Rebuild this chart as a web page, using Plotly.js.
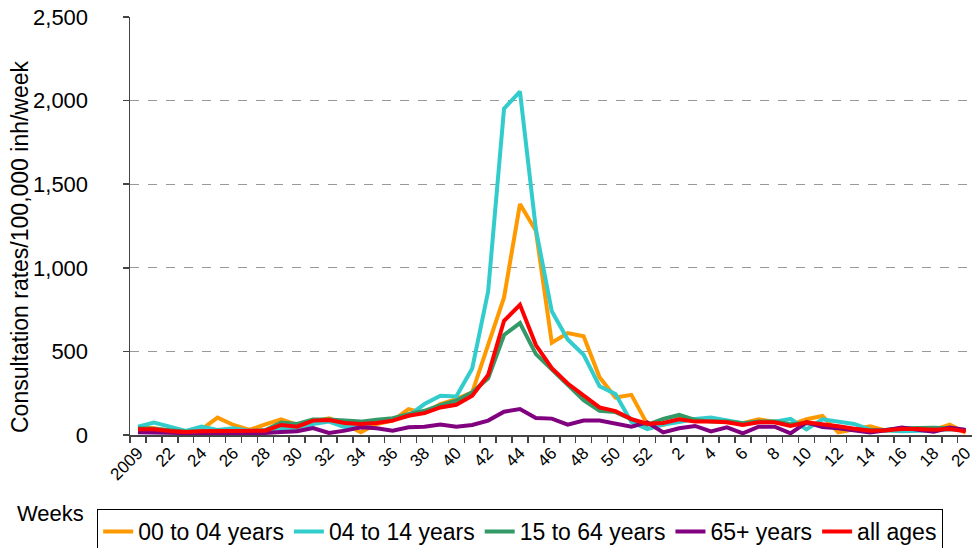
<!DOCTYPE html>
<html>
<head>
<meta charset="utf-8">
<script src="https://cdn.plot.ly/plotly-3.0.1.min.js"></script>
<style>
html,body{margin:0;padding:0;background:#fff;}
#chart{width:972px;height:548px;}
</style>
</head>
<body>
<div id="chart"></div>
<script>
// Week categories: 2009 week 20 .. 2010 week 20
const weeks = ["2009","21","22","23","24","25","26","27","28","29","30","31","32","33","34","35","36","37","38","39","40","41","42","43","44","45","46","47","48","49","50","51","52","1","2","3","4","5","6","7","8","9","10","11","12","13","14","15","16","17","18","19","20"];

const age00to04 = [46,40,25,15,34,104,60,30,64,94,60,80,100,66,16,66,86,155,131,185,215,255,534,823,1381,1221,552,610,590,345,224,240,65,60,95,90,80,75,70,94,80,60,94,114,16,32,52,26,36,38,30,62,14];
const age04to14 = [50,74,50,24,50,30,40,26,24,38,30,66,80,46,56,76,92,115,185,235,231,398,859,1952,2054,1231,740,571,480,292,245,78,35,62,78,96,104,86,70,76,80,96,34,94,78,66,32,25,22,26,26,34,30];
const age15to64 = [40,38,28,20,22,26,24,22,30,74,66,92,92,86,80,92,100,125,145,179,205,255,339,598,669,484,394,300,208,145,137,95,60,96,120,90,80,80,70,80,80,64,70,60,46,34,30,32,40,44,44,40,30];
const age65plus = [16,14,14,12,10,12,12,10,12,18,22,42,12,26,46,40,26,46,50,62,50,60,86,139,155,102,98,62,86,86,70,50,76,16,40,54,22,46,10,50,50,10,76,48,40,25,15,28,45,32,20,45,30];
const allAges = [34,34,24,18,22,24,22,22,26,60,50,86,90,72,66,72,86,115,131,165,181,235,359,683,779,538,400,308,234,165,143,95,68,72,94,80,80,76,60,76,76,54,76,66,52,38,26,28,36,36,32,36,22];

const seriesNames = ["00 to 04 years","04 to 14 years","15 to 64 years","65+ years","all ages"];
const seriesColors = ["#FF9900","#33CCCC","#339966","#800080","#FF0000"];
const seriesData = [age00to04, age04to14, age15to64, age65plus, allAges];

const xIdx = weeks.map((_, i) => i);
const tickIdx = xIdx.filter(i => i % 2 === 0);
const tickTxt = tickIdx.map(i => weeks[i]);

const FONT = "Liberation Sans, Arial, sans-serif";

const traces = seriesData.map((d, k) => ({
  type: "scatter",
  mode: "lines",
  x: xIdx,
  y: d,
  name: seriesNames[k],
  line: {color: seriesColors[k], width: 4},
  hoverinfo: "x+y+name"
}));

const layout = {
  width: 972,
  height: 548,
  margin: {l: 130, r: 0, t: 17, b: 113, autoexpand: false},
  paper_bgcolor: "#fff",
  plot_bgcolor: "#fff",
  font: {family: FONT, color: "#000", size: 22},
  showlegend: true,
  legend: {
    orientation: "h",
    x: -0.039, xanchor: "left",
    y: -0.177, yanchor: "top",
    bordercolor: "#000", borderwidth: 1,
    font: {family: FONT, size: 23, color: "#000"},
    tracegroupgap: 0
  },
  xaxis: {
    range: [-0.5, 52.4],
    tickmode: "array",
    tickvals: tickIdx,
    ticktext: tickTxt,
    ticks: "",
    tickangle: -45,
    ticklabeloverflow: "allow",
    tickfont: {family: FONT, size: 17, color: "#000"},
    showgrid: false,
    zeroline: false,
    showline: true,
    linecolor: "#444",
    linewidth: 1.5,
    automargin: false,
    minor: {tick0: 0.5, dtick: 1, ticks: "outside", ticklen: 6, tickcolor: "#444", tickwidth: 1.5, showgrid: false}
  },
  yaxis: {
    range: [0, 2500],
    dtick: 500,
    tickformat: ",",
    ticks: "outside",
    ticklen: 6,
    tickcolor: "#444",
    tickwidth: 1.5,
    ticklabelstandoff: 30,
    tickfont: {family: FONT, size: 22, color: "#000"},
    showgrid: true,
    gridcolor: "#999",
    griddash: "dash",
    gridwidth: 1,
    zeroline: false,
    showline: true,
    linecolor: "#444",
    linewidth: 1.5,
    automargin: false
  },
  annotations: [{
    text: "Consultation rates/100,000 inh/week", xref: "paper", yref: "paper",
    x: -0.1305, y: 0.45, xanchor: "center", yanchor: "middle", textangle: -90,
    showarrow: false, font: {family: FONT, size: 23, color: "#000"}
  }, {
    text: "Weeks", xref: "paper", yref: "paper",
    x: -0.095, y: -0.187, xanchor: "center", yanchor: "middle",
    showarrow: false, font: {family: FONT, size: 22, color: "#000"}
  }]
};

Plotly.newPlot("chart", traces, layout, {displayModeBar: false, staticPlot: true});
</script>
</body>
</html>
